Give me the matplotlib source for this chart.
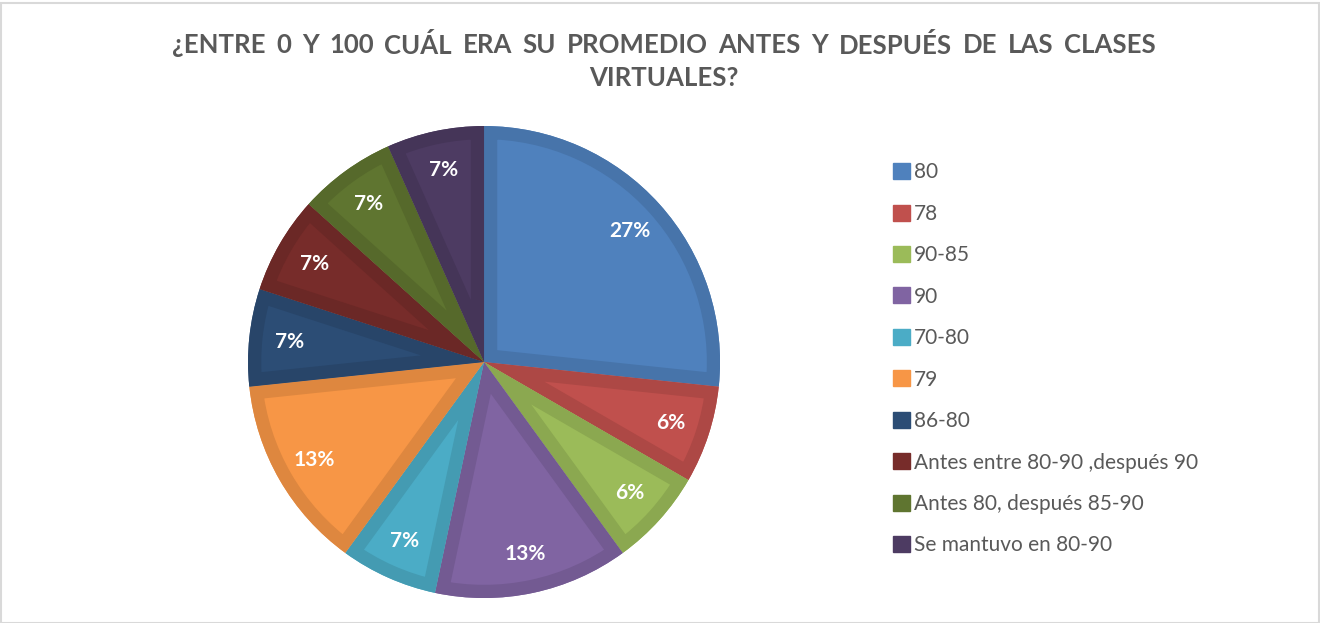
import numpy as np
import matplotlib.pyplot as plt
from matplotlib.patches import Patch, Rectangle, Wedge
import matplotlib.colors as mcolors

categorias = ['80', '78', '90-85', '90', '70-80', '79', '86-80',
              'Antes entre 80-90 ,después 90', 'Antes 80, después 85-90',
              'Se mantuvo en 80-90']
respuestas = [4, 1, 1, 2, 1, 2, 1, 1, 1, 1]
etiquetas = ['27%', '6%', '6%', '13%', '7%', '13%', '7%', '7%', '7%', '7%']
colores = ['#4F81BD', '#C0504D', '#9BBB59', '#8064A2', '#4BACC6',
           '#F79646', '#2C4D75', '#772C2A', '#5F7530', '#4D3B62']

titulo1 = '¿ENTRE 0 Y 100 CUÁL ERA SU PROMEDIO ANTES Y DESPUÉS DE LAS CLASES'
titulo2 = 'VIRTUALES?'

plt.rcParams['font.family'] = ['Lato', 'DejaVu Sans']

fig = plt.figure(figsize=(13.2, 6.23), dpi=100)
fig.patches.append(Rectangle((0.001, 0), 0.998, 0.995, transform=fig.transFigure,
                             fill=False, edgecolor='#d9d9d9', linewidth=1.5))

ax = fig.add_axes([0.1879, 0.0401, 0.3576, 0.7576])


def oscuro(c, f=0.9):
    r, g, b = mcolors.to_rgb(c)
    return (r * f, g * f, b * f)


wedges, _ = ax.pie(respuestas, colors=colores, startangle=90, counterclock=False,
                   radius=1.0, wedgeprops=dict(linewidth=0))

# borde interior mas oscuro (como en Excel)
for w, c in zip(wedges, colores):
    borde = Wedge(w.center, w.r, w.theta1, w.theta2, facecolor='none',
                  edgecolor=oscuro(c), linewidth=19, joinstyle='miter')
    ax.add_patch(borde)
    borde.set_clip_path(w)

total = sum(respuestas)
ang = 90.0
for v, t in zip(respuestas, etiquetas):
    med = ang - 360.0 * v / total / 2
    ang -= 360.0 * v / total
    x = 0.83 * np.cos(np.radians(med))
    y = 0.83 * np.sin(np.radians(med))
    ax.text(x, y, t, ha='center', va='center', color='white',
            fontsize=15, fontweight='bold')

ax.set_xlim(-1, 1)
ax.set_ylim(-1, 1)
ax.set_aspect('equal')
ax.axis('off')

# titulo: primera linea justificada entre x=172 y x=1156 px
palabras = titulo1.split(' ')
objs = [fig.text(0, 1 - 45 / 623, p, ha='left', va='center', fontsize=18.5,
                 fontweight='bold', color='#595959') for p in palabras]
fig.canvas.draw()
r = fig.canvas.get_renderer()
anchos = [o.get_window_extent(r).width for o in objs]
x0, x1 = 172, 1156
hueco = (x1 - x0 - sum(anchos)) / (len(palabras) - 1)
xp = x0
for o, a in zip(objs, anchos):
    o.set_x(xp / 1320)
    xp += a + hueco
fig.text(664 / 1320, 1 - 78 / 623, titulo2, ha='center', va='center',
         fontsize=18.5, fontweight='bold', color='#595959')

handles = [Patch(facecolor=c, edgecolor=c) for c in colores]
fig.legend(handles, categorias, loc='upper left',
           bbox_to_anchor=(885 / 1320, 1 - 154 / 623), frameon=False,
           fontsize=15, labelcolor='#595959', handlelength=0.8,
           handleheight=0.8, handletextpad=0.2, labelspacing=1.03,
           borderaxespad=0)

fig.savefig('out.png', dpi=100, facecolor='white')
